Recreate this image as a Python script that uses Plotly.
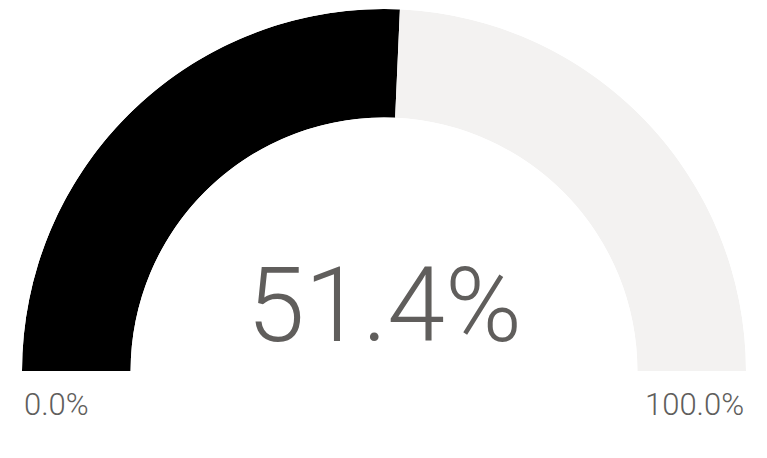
import plotly.graph_objects as go

# gauge values (percent)
gauge_min = 0.0
gauge_max = 100.0
gauge_value = 51.4

fill_color = "#000000"
track_color = "#F3F2F1"
text_color = "#605E5C"

W, H = 767, 458
FONT = "Roboto, sans-serif"


def to_deg(v):
    # map a gauge value onto the half circle (0..180 degrees)
    return (v - gauge_min) / (gauge_max - gauge_min) * 180.0


val_deg = to_deg(gauge_value)
max_deg = to_deg(gauge_max)

fig = go.Figure()

# filled part
fig.add_trace(go.Barpolar(
    r=[1], theta=[val_deg / 2], width=[val_deg],
    marker=dict(color=fill_color, line=dict(width=0)),
    hoverinfo="skip", showlegend=False,
))
# remaining track
fig.add_trace(go.Barpolar(
    r=[1], theta=[(val_deg + max_deg) / 2], width=[max_deg - val_deg],
    marker=dict(color=track_color, line=dict(width=0)),
    hoverinfo="skip", showlegend=False,
))

label_font = dict(family=FONT, size=31, color=text_color, weight=300)

fig.update_layout(
    width=W, height=H,
    margin=dict(l=0, r=0, t=0, b=0),
    paper_bgcolor="white",
    plot_bgcolor="white",
    polar=dict(
        domain=dict(x=[22 / W, 746 / W], y=[(H - 372) / H, (H - 8) / H]),
        sector=[0, 180],
        hole=0.70,
        bgcolor="white",
        bargap=0,
        radialaxis=dict(visible=False, range=[0, 1]),
        angularaxis=dict(visible=False, rotation=180, direction="clockwise"),
    ),
    annotations=[
        dict(text=f"{gauge_value:.1f}%", x=384 / W, y=(H - 305) / H,
             xref="paper", yref="paper", xanchor="center", yanchor="middle",
             showarrow=False,
             font=dict(family=FONT, size=104, color=text_color, weight=300)),
        dict(text=f"{gauge_min:.1f}%", x=22 / W, y=(H - 404) / H,
             xref="paper", yref="paper", xanchor="left", yanchor="middle",
             showarrow=False, font=label_font),
        dict(text=f"{gauge_max:.1f}%", x=746 / W, y=(H - 404) / H,
             xref="paper", yref="paper", xanchor="right", yanchor="middle",
             showarrow=False, font=label_font),
    ],
)

# drop the default page margin so the figure sits at the window's corner
fig.write_html("out.html", config={"displayModeBar": False},
               post_script="document.body.style.margin='0';")
